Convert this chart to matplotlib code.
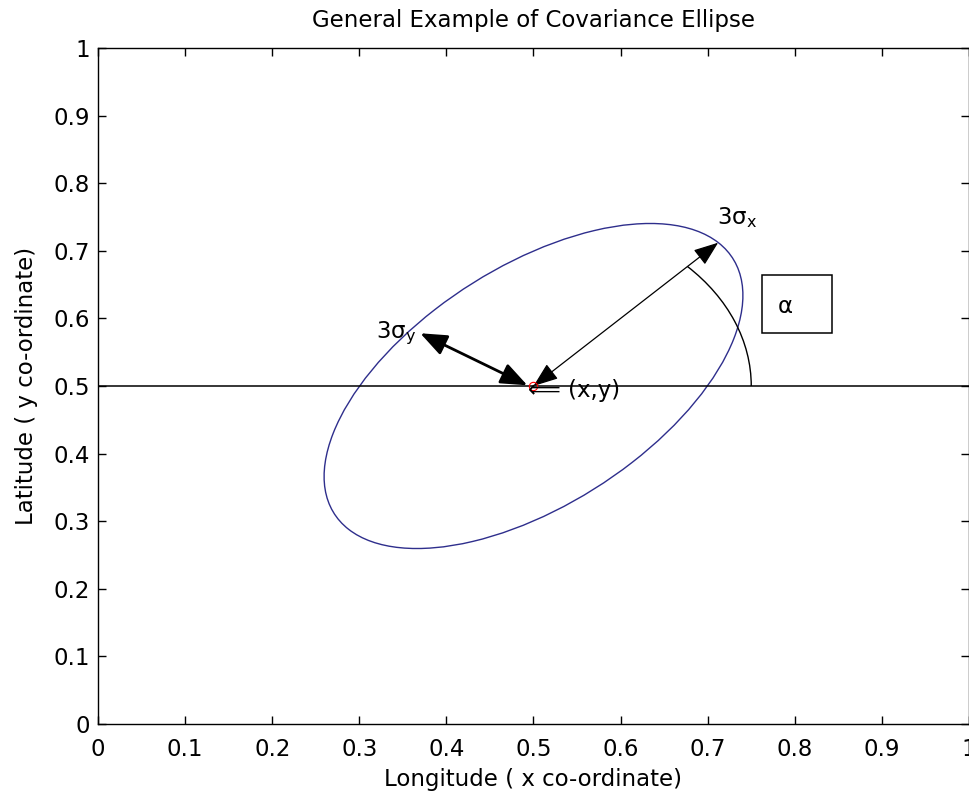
import matplotlib.pyplot as plt
import numpy as np
from matplotlib.patches import Ellipse, Arc, Rectangle, FancyArrowPatch

plt.rcParams['font.family'] = ['DejaVu Sans']
plt.rcParams['font.size'] = 16.5

# ellipse parameters (data units)
center = (0.5, 0.5)
semi_major = 0.3
semi_minor = 0.16
alpha_deg = 45.0
arc_radius = 0.25

# annotation points
sigx_tip = (0.712, 0.712)
sigy_tip = (0.370, 0.578)
sigy_base = (0.493, 0.501)
alpha_box = (0.762, 0.578, 0.081, 0.086)   # x, y, w, h

ticks = np.arange(0, 1.01, 0.1)
ticklabels = ['0', '0.1', '0.2', '0.3', '0.4', '0.5', '0.6', '0.7', '0.8', '0.9', '1']

fig = plt.figure(figsize=(9.70, 8.01), dpi=100)
ax = fig.add_axes([98/970, 77/801, 871/970, 676/801])

ax.axhline(center[1], color='k', lw=1.1)

ell = Ellipse(center, 2*semi_major, 2*semi_minor, angle=alpha_deg,
              fill=False, edgecolor='#2e2e8c', lw=1.0)
ax.add_patch(ell)

arc = Arc(center, 2*arc_radius, 2*arc_radius, theta1=0, theta2=alpha_deg,
          color='k', lw=1.0)
ax.add_patch(arc)

ax.plot(center[0], center[1], 'o', mfc='none', mec='red', ms=6, mew=0.8)

# double arrows for the axes of the ellipse
a1 = FancyArrowPatch(center, sigx_tip, arrowstyle='<|-|>,head_length=0.85,head_width=0.32',
                     mutation_scale=18, color='k', lw=0.9, shrinkA=0, shrinkB=0)
ax.add_patch(a1)
a2 = FancyArrowPatch(sigy_base, sigy_tip, arrowstyle='<|-|>,head_length=0.85,head_width=0.34',
                     mutation_scale=19, color='k', lw=2.0, shrinkA=0, shrinkB=0)
ax.add_patch(a2)

ax.text(0.711, 0.740, r'3σ$_\mathregular{x}$', ha='left', va='baseline')
ax.text(0.319, 0.571, r'3σ$_\mathregular{y}$', ha='left', va='baseline')
ax.text(0.494, 0.494, '⟸ (x,y)', ha='left', va='center')

ax.add_patch(Rectangle(alpha_box[:2], alpha_box[2], alpha_box[3],
                       fill=False, edgecolor='k', lw=1.1))
ax.text(0.78, 0.618, 'α', ha='left', va='center')

ax.set_xlim(0, 1)
ax.set_ylim(0, 1)
ax.set_xticks(ticks)
ax.set_xticklabels(ticklabels)
ax.set_yticks(ticks)
ax.set_yticklabels(ticklabels)
ax.tick_params(direction='in', length=6, width=1.0, top=True, right=True, pad=6)
ax.tick_params(axis='x', pad=10)
for s in ax.spines.values():
    s.set_linewidth(1.0)

ax.set_title('General Example of Covariance Ellipse', fontsize=16.5, pad=15)
ax.set_xlabel('Longitude ( x co-ordinate)', labelpad=5)
ax.set_ylabel('Latitude ( y co-ordinate)', labelpad=11)

fig.savefig('out.png', dpi=100)
